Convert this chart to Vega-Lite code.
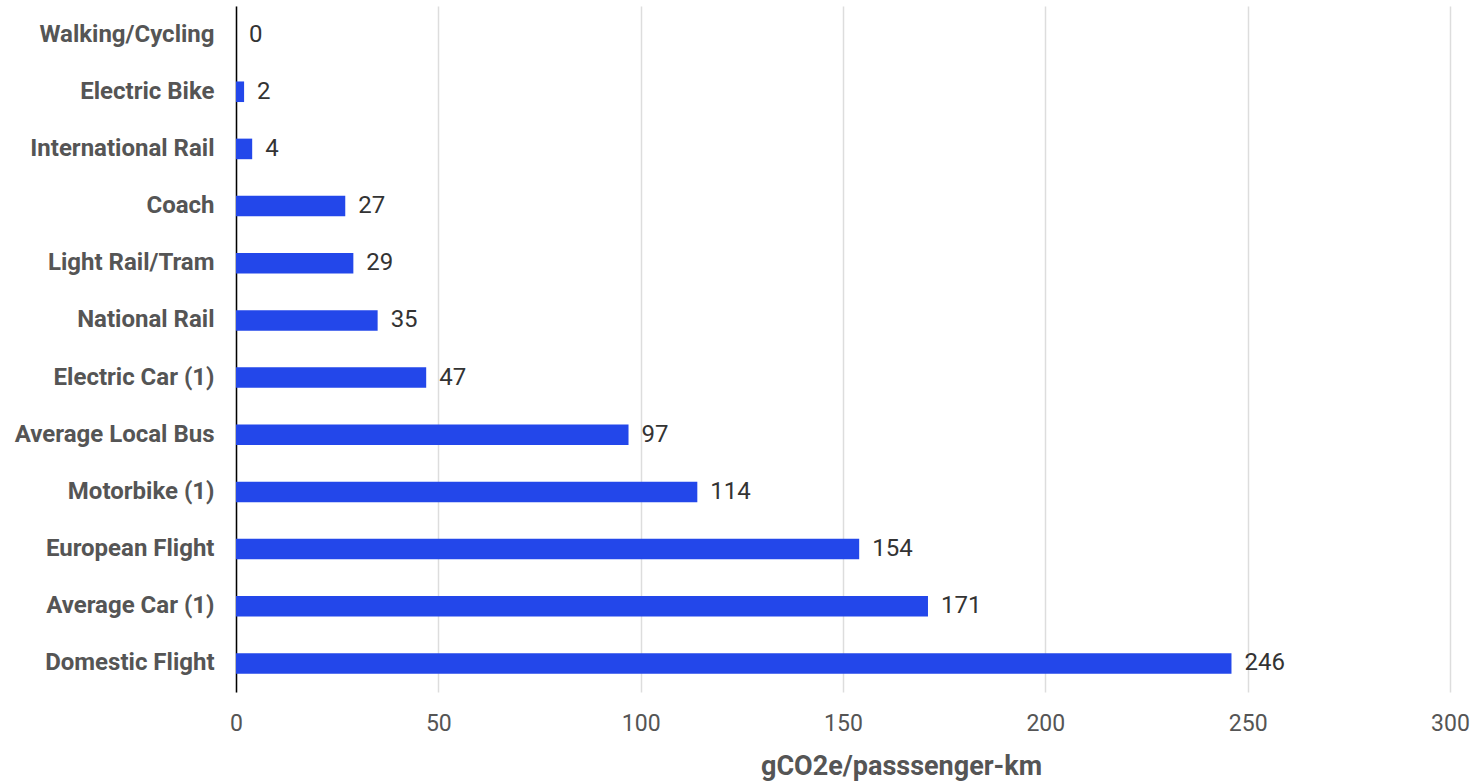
{
  "$schema": "https://vega.github.io/schema/vega-lite/v6.json",
  "autosize": {"type": "none"},
  "width": 1214,
  "height": 686,
  "padding": {"left": 236, "top": 6, "right": 26, "bottom": 90},
  "background": "white",
  "config": {"view": {"stroke": null}, "font": "Roboto"},
  "data": {"values": [
    {"mode": "Walking/Cycling", "value": 0},
    {"mode": "Electric Bike", "value": 2},
    {"mode": "International Rail", "value": 4},
    {"mode": "Coach", "value": 27},
    {"mode": "Light Rail/Tram", "value": 29},
    {"mode": "National Rail", "value": 35},
    {"mode": "Electric Car (1)", "value": 47},
    {"mode": "Average Local Bus", "value": 97},
    {"mode": "Motorbike (1)", "value": 114},
    {"mode": "European Flight", "value": 154},
    {"mode": "Average Car (1)", "value": 171},
    {"mode": "Domestic Flight", "value": 246}
  ]},
  "encoding": {
    "y": {"field": "mode", "type": "nominal", "sort": null,
      "scale": {"paddingInner": 0.64, "paddingOuter": 0.32},
      "axis": {"title": null, "ticks": false, "domain": true, "domainColor": "#000000", "domainWidth": 1.5,
        "labelFont": "Roboto", "labelFontWeight": "bold", "labelFontSize": 24, "labelColor": "#555555", "labelPadding": 22, "labelLimit": 400}},
    "x": {"field": "value", "type": "quantitative",
      "scale": {"domain": [0, 300], "nice": false},
      "axis": {"title": "gCO2e/passsenger-km", "values": [0, 50, 100, 150, 200, 250, 300], "ticks": false, "domain": false,
        "grid": true, "gridColor": "#dddddd", "gridWidth": 1.5, "labelFlush": false,
        "labelFont": "Roboto", "labelFontSize": 23, "labelColor": "#555555", "labelPadding": 20,
        "titleFont": "Roboto", "titleFontWeight": "bold", "titleFontSize": 27, "titleColor": "#555555",
        "titleX": 665, "titleY": 82, "titleAlign": "center", "titleBaseline": "alphabetic"}}
  },
  "layer": [
    {"mark": {"type": "bar", "color": "#2347ea"}},
    {"mark": {"type": "text", "align": "left", "baseline": "middle", "dx": 13, "font": "Roboto", "fontSize": 24, "color": "#333333"},
      "encoding": {"text": {"field": "value", "type": "quantitative"}}}
  ]
}
